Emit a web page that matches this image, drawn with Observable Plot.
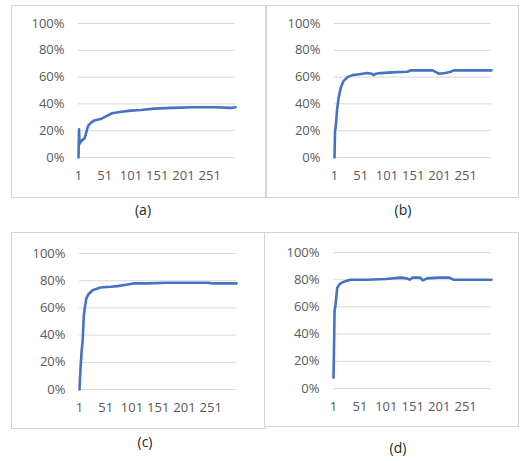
<!DOCTYPE html>
<html>
<head>
<meta charset="utf-8">
<script src="https://cdn.jsdelivr.net/npm/d3@7"></script>
<script src="https://cdn.jsdelivr.net/npm/@observablehq/plot@0.6"></script>
<style>
  html, body { margin: 0; padding: 0; background: #fff; }
  #root { position: relative; width: 520px; height: 461px; overflow: hidden; font-family: "Open Sans", sans-serif; }
  .box { position: absolute; border: 1px solid #d4d4d4; background: #fff; }
  .box svg { display: block; }
  .cap { position: absolute; font-family: "Open Sans", sans-serif; font-size: 14px; color: #262626; transform: translateX(-50%); white-space: nowrap; }
</style>
</head>
<body>
<div id="root"></div>
<script>
// Category ticks and y ticks
const xTicks = [1, 51, 101, 151, 201, 251];
const yTicks = [0, 0.2, 0.4, 0.6, 0.8, 1.0];
const captions = ["(a)", "(b)", "(c)", "(d)"];

// Series (a)
const aX = [1, 2, 3, 4, 6, 8, 10, 12, 14, 16, 18, 20, 25, 30, 35, 45, 55, 65, 80, 100, 120, 145, 180, 220, 260, 290, 300];
const aY = [0, 0.21, 0.10, 0.11, 0.12, 0.13, 0.135, 0.14, 0.16, 0.19, 0.22, 0.24, 0.26, 0.275, 0.28, 0.29, 0.31, 0.33, 0.34, 0.35, 0.355, 0.365, 0.37, 0.375, 0.375, 0.37, 0.375];

// Series (b)
const bX = [1, 2, 3, 4, 6, 9, 13, 18, 26, 35, 45, 64, 72, 75, 80, 89, 110, 140, 146, 170, 188, 195, 200, 212, 222, 228, 260, 300];
const bY = [0, 0.20, 0.22, 0.26, 0.36, 0.45, 0.52, 0.57, 0.60, 0.615, 0.62, 0.63, 0.625, 0.615, 0.625, 0.63, 0.635, 0.64, 0.65, 0.65, 0.65, 0.635, 0.625, 0.63, 0.64, 0.65, 0.65, 0.65];

// Series (c)
const cX = [1, 2, 3, 5, 7, 9, 11, 14, 18, 26, 41, 60, 73, 90, 104, 130, 168, 210, 244, 256, 280, 300];
const cY = [0, 0.08, 0.16, 0.28, 0.36, 0.53, 0.60, 0.67, 0.70, 0.73, 0.75, 0.755, 0.76, 0.77, 0.78, 0.78, 0.785, 0.785, 0.785, 0.78, 0.78, 0.78];

// Series (d)
const dX = [1, 2, 3, 5, 8, 12, 17, 25, 33, 50, 65, 100, 128, 140, 145, 150, 165, 170, 178, 200, 220, 228, 260, 300];
const dY = [0.08, 0.30, 0.57, 0.62, 0.74, 0.765, 0.78, 0.79, 0.80, 0.80, 0.80, 0.805, 0.815, 0.81, 0.80, 0.815, 0.815, 0.795, 0.81, 0.815, 0.815, 0.80, 0.80, 0.80];

const panels = [
  {xs: aX, ys: aY, left: 11, top: 5, w: 255, h: 193, ml: 66, mr: 30, mt: 17, mb: 40, cx: 143, cy: 200},
  {xs: bX, ys: bY, left: 266, top: 5, w: 253, h: 193, ml: 67, mr: 27, mt: 17, mb: 40, cx: 403, cy: 200},
  {xs: cX, ys: cY, left: 11, top: 232, w: 255, h: 197, ml: 67, mr: 29, mt: 20, mb: 39, cx: 145, cy: 432},
  {xs: dX, ys: dY, left: 264, top: 232, w: 255, h: 195, ml: 68, mr: 27, mt: 19, mb: 38, cx: 398, cy: 438}
];

const root = document.getElementById("root");

panels.forEach((p, i) => {
  const data = p.xs.map((x, k) => ({x, y: p.ys[k]}));
  const innerW = p.w - 2, innerH = p.h - 2;
  const chart = Plot.plot({
    width: innerW,
    height: innerH,
    marginLeft: p.ml,
    marginRight: p.mr,
    marginTop: p.mt,
    marginBottom: p.mb,
    style: {fontFamily: "Open Sans, sans-serif", fontSize: "13px", color: "#595959", background: "#fff", overflow: "visible"},
    x: {domain: [1, 300]},
    y: {domain: [0, 1]},
    marks: [
      Plot.gridY(yTicks, {stroke: "#d9d9d9", strokeOpacity: 1, strokeWidth: 1}),
      Plot.axisY(yTicks, {tickSize: 0, tickPadding: 14, tickFormat: d3.format(".0%"), label: null, fill: "#595959"}),
      Plot.axisX(xTicks, {tickSize: 0, tickPadding: 13, label: null, fill: "#595959"}),
      Plot.lineY(data, {x: "x", y: "y", stroke: "#4472c4", strokeWidth: 2.6, strokeLinejoin: "round", strokeLinecap: "round"})
    ]
  });
  const box = document.createElement("div");
  box.className = "box";
  box.style.left = p.left + "px";
  box.style.top = p.top + "px";
  box.style.width = innerW + "px";
  box.style.height = innerH + "px";
  box.appendChild(chart);
  root.appendChild(box);

  const cap = document.createElement("div");
  cap.className = "cap";
  cap.textContent = captions[i];
  cap.style.left = p.cx + "px";
  cap.style.top = p.cy + "px";
  root.appendChild(cap);
});
</script>
</body>
</html>
